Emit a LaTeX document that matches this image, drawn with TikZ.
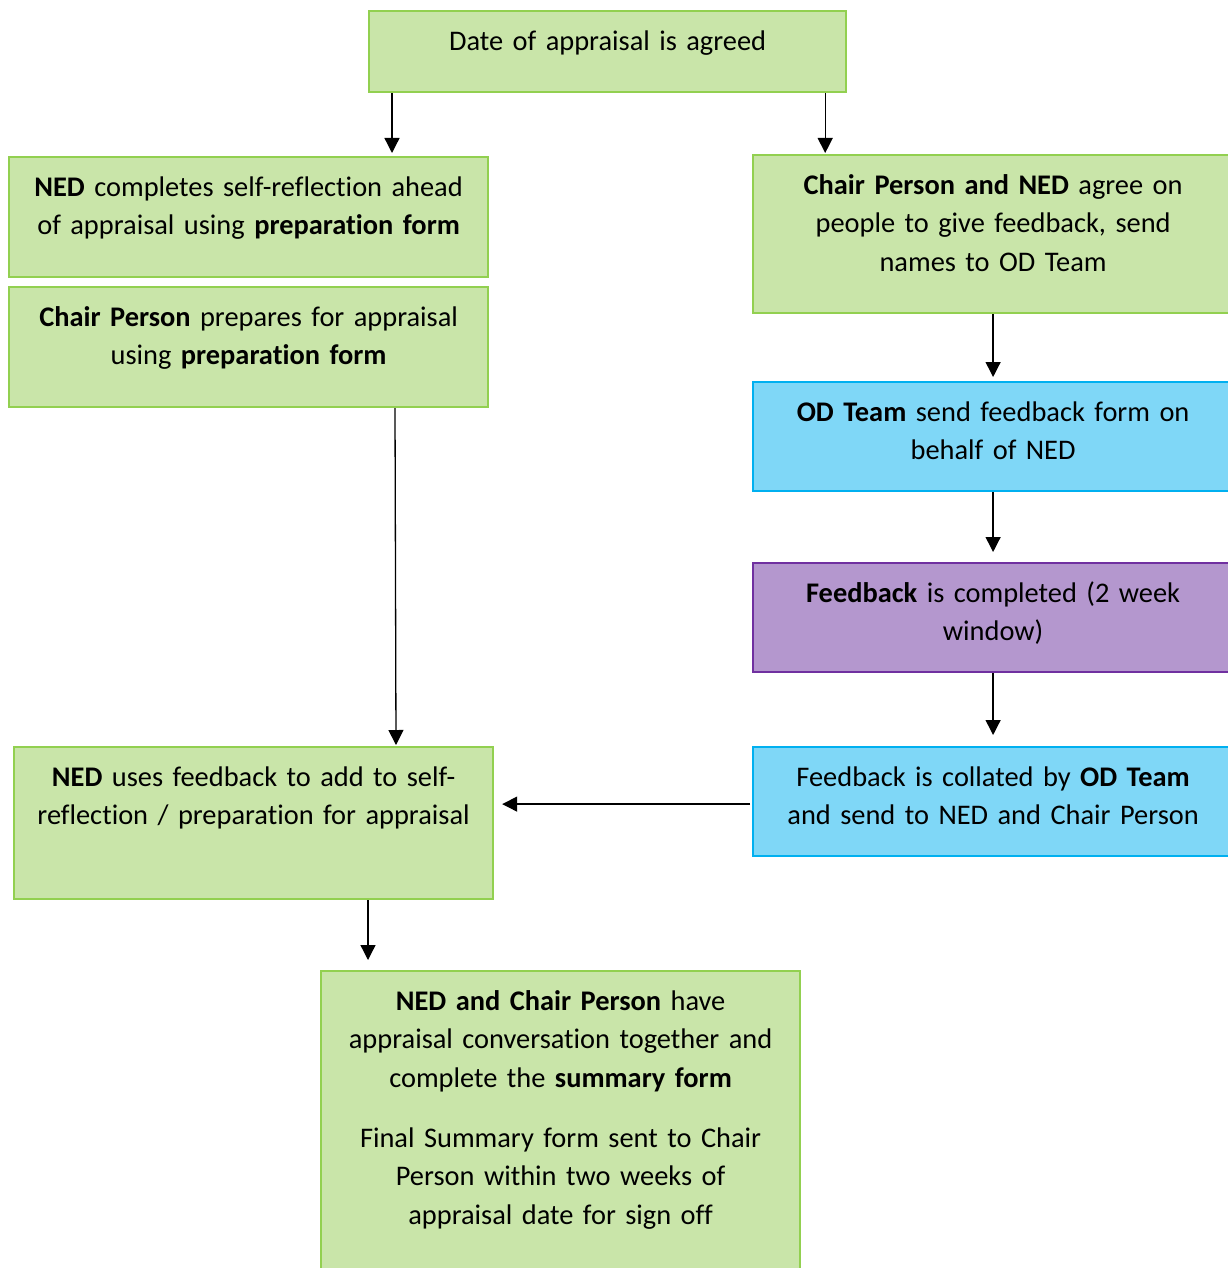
\documentclass[tikz,border=0pt]{standalone}
\usepackage{fontspec}
\setmainfont[Ligatures=NoCommon]{Carlito}
\usetikzlibrary{arrows.meta}
\definecolor{gfill}{HTML}{C9E5A9}
\definecolor{gline}{HTML}{92D050}
\definecolor{bfill}{HTML}{7FD7F7}
\definecolor{bline}{HTML}{00B0F0}
\definecolor{pfill}{HTML}{B497CE}
\definecolor{pline}{HTML}{7030A0}
\tikzset{
  boxbase/.style={rectangle, line width=2.2pt, inner sep=0pt, anchor=north west},
  gbox/.style={boxbase, draw=gline, fill=gfill},
  bbox/.style={boxbase, draw=bline, fill=bfill},
  pbox/.style={boxbase, draw=pline, fill=pfill},
  txt/.style={anchor=north, inner sep=0pt, text width=478pt, align=center,
    font=\fontsize{28.4}{38.5}\selectfont},
  arr/.style={line width=1.3pt, -{Triangle[length=15pt,width=15pt]}}
}
\begin{document}
\begin{tikzpicture}[x=1pt,y=1pt]
\useasboundingbox (0,0) rectangle (1227,-1268);
% boxes
\node[gbox, minimum width=477pt, minimum height=81pt] (b1) at (368,-10) {};
\node[gbox, minimum width=479pt, minimum height=120pt] (b2) at (8,-156) {};
\node[gbox, minimum width=479pt, minimum height=120pt] (b3) at (8,-286) {};
\node[gbox, minimum width=480pt, minimum height=158pt] (b4) at (752,-154) {};
\node[bbox, minimum width=480pt, minimum height=109pt] (b5) at (752,-381) {};
\node[pbox, minimum width=480pt, minimum height=109pt] (b6) at (752,-562) {};
\node[bbox, minimum width=480pt, minimum height=109pt] (b7) at (752,-746) {};
\node[gbox, minimum width=479pt, minimum height=152pt] (b8) at (13,-746) {};
\node[gbox, minimum width=479pt, minimum height=320pt] (b9) at (320,-970) {};
% texts
\node[txt] (t1) at ([yshift=-13pt]b1.north) {\strut Date of appraisal is agreed};
\node[txt] (t2) at ([yshift=-13pt]b2.north) {\strut\textbf{NED} completes self-reflection ahead\\ of appraisal using \textbf{preparation form}};
\node[txt] (t3) at ([yshift=-13pt]b3.north) {\strut\textbf{Chair Person} prepares for appraisal\\ using \textbf{preparation form}};
\node[txt] (t4) at ([yshift=-13pt]b4.north) {\strut\textbf{Chair Person and NED} agree on\\ people to give feedback, send\\ names to OD Team};
\node[txt] (t5) at ([yshift=-13pt]b5.north) {\strut\textbf{OD Team} send feedback form on\\ behalf of NED};
\node[txt] (t6) at ([yshift=-13pt]b6.north) {\strut\textbf{Feedback} is completed (2 week\\ window)};
\node[txt] (t7) at ([yshift=-13pt]b7.north) {\strut Feedback is collated by \textbf{OD Team}\\ and send to NED and Chair Person};
\node[txt] (t8) at ([yshift=-13pt]b8.north) {\strut\textbf{NED} uses feedback to add to self-\\ reflection / preparation for appraisal};
\node[txt] (t9) at ([yshift=-13pt]b9.north) {\strut\textbf{NED and Chair Person} have\\ appraisal conversation together and\\ complete the \textbf{summary form}\\[21.5pt] Final Summary form sent to Chair\\ Person within two weeks of\\ appraisal date for sign off};
% connectors
\coordinate (a1) at ([xshift=24pt]b1.south west);
\coordinate (a2) at ([xshift=-22pt]b1.south east);
\coordinate (a6) at ([xshift=387pt]b3.south west);
\coordinate (a6e) at ([xshift=383pt]b8.north west);
\coordinate (a7) at ([yshift=-2.5pt]b7.west);
\coordinate (a8) at ([xshift=355pt]b8.south west);
\draw[arr, shorten >=3pt] (a1) -- (a1 |- b2.north);
\draw[arr, shorten >=1pt] (a2) -- (a2 |- b4.north);
\draw[arr, shorten >=4pt] (b4.south) -- (b5.north);
\draw[arr, shorten >=10pt] (b5.south) -- (b6.north);
\draw[arr, shorten >=11pt] (b6.south) -- (b7.north);
\draw[arr, shorten >=1pt] (a6) -- (a6e);
\draw[arr, shorten >=8pt, shorten <=2pt] (a7) -- (a7 -| b8.east);
\draw[arr, shorten >=10pt] (a8) -- (a8 |- b9.north);
\end{tikzpicture}
\end{document}
